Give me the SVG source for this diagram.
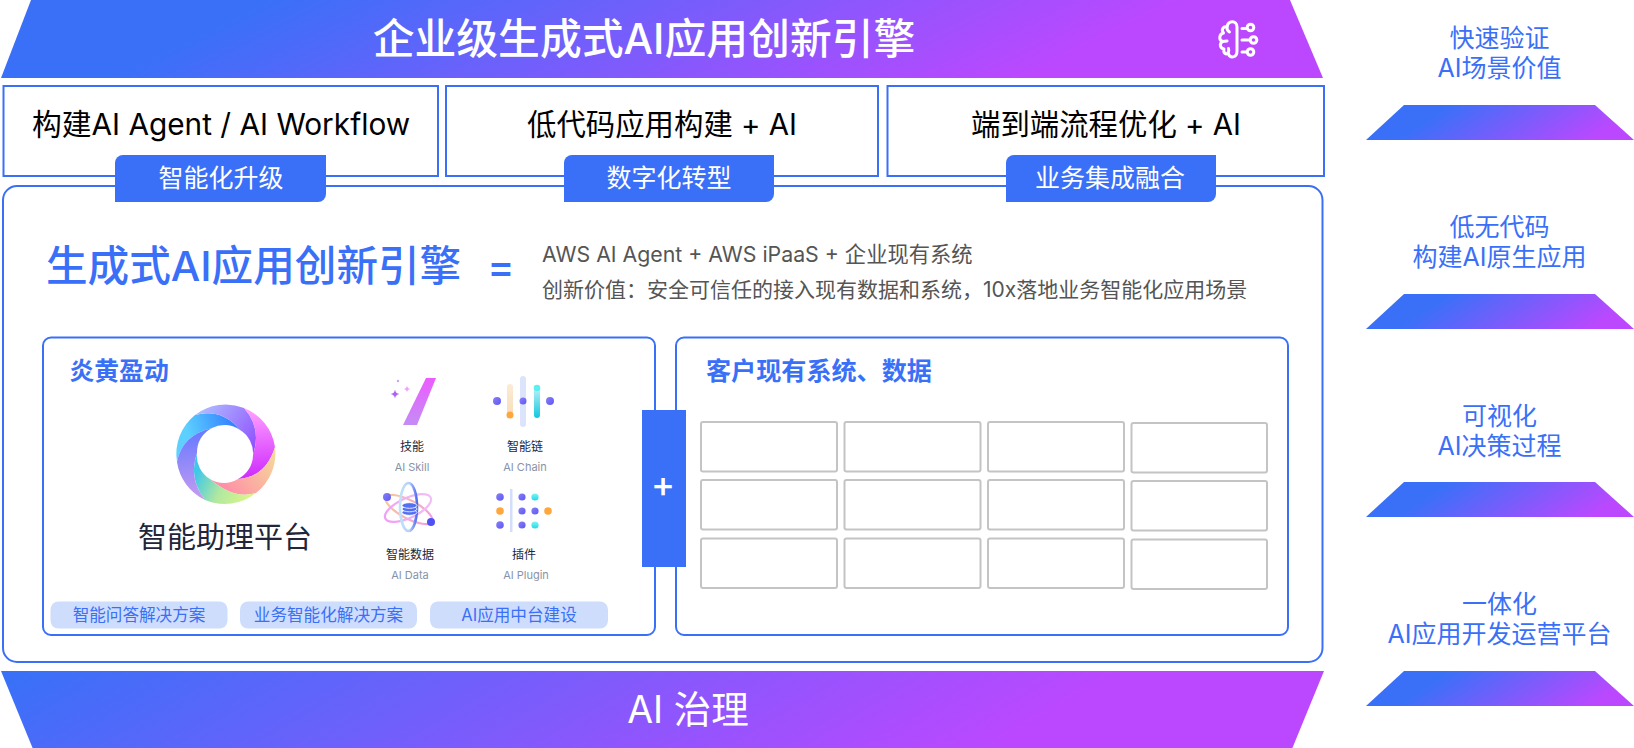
<svg xmlns="http://www.w3.org/2000/svg" width="1634" height="748" viewBox="0 0 1634 748">
<style>
text{font-family:Inter,"Noto Sans CJK SC",sans-serif;text-anchor:middle}
.box{fill:#fff;stroke:#3A70F8;stroke-width:2}
.cell{fill:#fff;stroke:#C4C4C4;stroke-width:2}
.badge{fill:#3A70F8}
.bt{fill:#fff;font-size:25px}
.rowt{fill:#000;font-size:29.400px}
.side{fill:#3A70F8;font-size:25px}
.chip{fill:#CEDDFC}
.cht{fill:#3A70F8;font-size:16.600px}
.ic1{fill:#23263a;font-size:12px}
.ic2{fill:#8A92A6;font-size:11px}
.sub{fill:#555;font-size:21.300px;text-anchor:start}
.h2{fill:#3A70F8;font-size:24.800px;font-weight:700;text-anchor:start}
.tri{fill:url(#gS)}
.dp{fill:url(#gDot)}.dc{fill:url(#gCy)}
</style>
<defs>
<linearGradient id="gT" x1="0" y1="0" x2="1" y2="0.12"><stop offset="0.2" stop-color="#3A70F8"/><stop offset="0.88" stop-color="#BB48FF"/></linearGradient>
<linearGradient id="gB" x1="0" y1="0" x2="1" y2="0.1"><stop offset="0.02" stop-color="#3A70F8"/><stop offset="0.84" stop-color="#BB48FF"/></linearGradient>
<linearGradient id="gS" x1="0" y1="0" x2="1" y2="0.2"><stop offset="0.3" stop-color="#3A70F8"/><stop offset="1" stop-color="#BB48FF"/></linearGradient>
<linearGradient id="gDot" x1="0" y1="0" x2="1" y2="1"><stop offset="0" stop-color="#8A80F5"/><stop offset="1" stop-color="#5A58F5"/></linearGradient>
<linearGradient id="gCy" x1="0" y1="0" x2="0" y2="1"><stop offset="0" stop-color="#7FF5F5"/><stop offset="1" stop-color="#20D8E8"/></linearGradient>
<linearGradient id="gCyB" x1="0" y1="0" x2="0" y2="1"><stop offset="0" stop-color="#C8F5F8"/><stop offset="1" stop-color="#10C8E0"/></linearGradient>
<linearGradient id="gOr" x1="0" y1="0" x2="0" y2="1"><stop offset="0" stop-color="#FBEBD6"/><stop offset="1" stop-color="#F8DDB8"/></linearGradient>
<linearGradient id="gSk" x1="0" y1="0" x2="0" y2="1"><stop offset="0" stop-color="#EC5CFF"/><stop offset="1" stop-color="#C48CF5"/></linearGradient>
<linearGradient id="gE1" x1="0" y1="0" x2="1" y2="0"><stop offset="0" stop-color="#F8C89A"/><stop offset="1" stop-color="#F0A0E0"/></linearGradient>
<linearGradient id="gE2" x1="0" y1="0" x2="1" y2="0"><stop offset="0" stop-color="#EFA0F5"/><stop offset="1" stop-color="#F0C0F8"/></linearGradient>
<linearGradient id="gE3" x1="0" y1="0" x2="1" y2="0"><stop offset="0" stop-color="#BFE2F8"/><stop offset="0.55" stop-color="#B8D0F8"/><stop offset="1" stop-color="#4F6CF0"/></linearGradient>
<linearGradient id="r1" gradientUnits="userSpaceOnUse" x1="190" y1="440" x2="240" y2="425"><stop offset="0" stop-color="#5CD0FF"/><stop offset="1" stop-color="#2F78FF"/></linearGradient>
<linearGradient id="r2" gradientUnits="userSpaceOnUse" x1="200" y1="405" x2="258" y2="445"><stop offset="0" stop-color="#B0C0FF"/><stop offset="1" stop-color="#9050FF"/></linearGradient>
<linearGradient id="r3" gradientUnits="userSpaceOnUse" x1="250" y1="410" x2="255" y2="475"><stop offset="0" stop-color="#FFA0FF"/><stop offset="1" stop-color="#D030FF"/></linearGradient>
<linearGradient id="r4" gradientUnits="userSpaceOnUse" x1="275" y1="450" x2="225" y2="490"><stop offset="0" stop-color="#F5DC98"/><stop offset="1" stop-color="#FF8FA8"/></linearGradient>
<linearGradient id="r5" gradientUnits="userSpaceOnUse" x1="250" y1="495" x2="198" y2="470"><stop offset="0" stop-color="#D8F58A"/><stop offset="0.5" stop-color="#B0E8A0"/><stop offset="1" stop-color="#40C8E8"/></linearGradient>
<linearGradient id="r6" gradientUnits="userSpaceOnUse" x1="195" y1="435" x2="200" y2="500"><stop offset="0" stop-color="#6C7CFF"/><stop offset="1" stop-color="#C89CF0"/></linearGradient>
</defs>

<g id="banner-top">
<polygon points="31,0 1290,0 1323,78 1,78" fill="url(#gT)"/>
<text x="644" y="54" fill="#fff" font-size="41.800" font-weight="500">企业级生成式AI应用创新引擎</text>
<g fill="none" stroke="#fff" stroke-width="3" stroke-linecap="round" stroke-linejoin="round">
<path d="M1237 27C1237 20 1228 20 1227 27C1223 26 1221 30 1223.500 33C1219 34 1218.500 40 1222.500 41.500C1219 44 1220 48 1224 49C1223 53 1226 55 1228 53C1230 59 1237 58 1237 51Z"/>
<path d="M1227 27C1226.500 30 1228 31 1229.500 32M1222.500 41.500L1227 41M1228 53C1229 51 1229 50 1228.500 48.500"/>
<path d="M1242 28.500H1247M1242 40H1249.500M1242 52H1247"/>
<circle cx="1250.500" cy="27.500" r="3.300"/><circle cx="1253.500" cy="40" r="3.300"/><circle cx="1250.500" cy="52" r="3.300"/>
</g>
</g>

<g id="card-row">
<g id="card-1"><rect class="box" x="3.500" y="86" width="434.500" height="90"/><text class="rowt" x="221" y="135" style="font-size:29.800px">构建AI Agent / AI Workflow</text></g>
<g id="card-2"><rect class="box" x="446" y="86" width="432" height="90"/><text class="rowt" x="662" y="135">低代码应用构建 + AI</text></g>
<g id="card-3"><rect class="box" x="887.500" y="86" width="436.500" height="90"/><text class="rowt" x="1106" y="135">端到端流程优化 + AI</text></g>
</g>

<g id="main"><rect class="box" x="3" y="186" width="1319.500" height="476" rx="14"/>
<text x="46" y="281" fill="#3A70F8" font-size="41.600" font-weight="500" style="text-anchor:start">生成式AI应用创新引擎</text>
<text x="501" y="281" fill="#3A70F8" font-size="41" font-weight="500">=</text>
<text class="sub" x="542" y="262">AWS AI Agent + AWS iPaaS + 企业现有系统</text>
<text class="sub" x="542" y="297" style="font-size:21px">创新价值&#xFF1A;安全可信任的接入现有数据和系统&#xFF0C;10x落地业务智能化应用场景</text>
</g>

<g id="badges">
<g id="badge-1"><path class="badge" d="M115 163a8 8 0 0 1 8-8H326V194a8 8 0 0 1-8 8H115Z"/><text class="bt" x="221" y="187">智能化升级</text></g>
<g id="badge-2"><path class="badge" d="M564 163a8 8 0 0 1 8-8H774V194a8 8 0 0 1-8 8H564Z"/><text class="bt" x="669" y="187">数字化转型</text></g>
<g id="badge-3"><path class="badge" d="M1006 163a8 8 0 0 1 8-8H1216V194a8 8 0 0 1-8 8H1006Z"/><text class="bt" x="1110" y="187">业务集成融合</text></g>
</g>

<g id="vendor"><rect class="box" x="43" y="337.500" width="612" height="297.500" rx="8"/>
<text class="h2" x="69.500" y="380">炎黄盈动</text>
<g id="ring">
<path fill="url(#r1)" d="M195 415Q222 408 240 430A27 27 0 0 0 212 428Q182 435 177 462A50 50 0 0 1 195 415Z"/>
<path fill="url(#r2)" d="M244 408Q262 428 253 455A27 27 0 0 0 240 430Q222 408 195 415A50 50 0 0 1 244 408Z"/>
<path fill="url(#r3)" d="M275 447Q266 477 238 479A27 27 0 0 0 253 455Q262 428 244 408A50 50 0 0 1 275 447Z"/>
<path fill="url(#r4)" d="M256 493Q234 500 210 479A27 27 0 0 0 238 479Q266 477 275 447A50 50 0 0 1 256 493Z"/>
<path fill="url(#r5)" d="M205 500Q188 478 197 453A27 27 0 0 0 210 479Q234 500 256 493A50 50 0 0 1 205 500Z"/>
<path fill="url(#r6)" d="M177 462Q182 435 212 428A27 27 0 0 0 197 453Q188 478 205 500A50 50 0 0 1 177 462Z"/>
</g>
<text x="225" y="548" fill="#23263A" font-size="29">智能助理平台</text>
<g id="icon-skill">
<path fill="url(#gSk)" d="M426 378H436L417 425H403Z"/>
<path fill="#B060F5" d="M395 389.500Q395.500 393.500 399.500 394Q395.500 394.500 395 398.500Q394.500 394.500 390.500 394Q394.500 393.500 395 389.500Z"/>
<path fill="#EFA0FF" d="M407 386Q407.500 388.500 410 389Q407.500 389.500 407 392Q406.500 389.500 404 389Q406.500 388.500 407 386Z"/>
<circle cx="398" cy="381" r="1.200" fill="#C4A6F5"/>
<text class="ic1" x="412" y="451">技能</text><text class="ic2" x="412" y="471">AI Skill</text>
</g>
<g id="icon-chain">
<rect x="507" y="384" width="6" height="33" rx="3" fill="url(#gOr)"/>
<rect x="520" y="376" width="6" height="51" rx="3" fill="#DCE4FC"/>
<rect x="534" y="385" width="6" height="33" rx="3" fill="url(#gCyB)"/>
<circle cx="497" cy="401" r="4" class="dp"/><circle cx="510" cy="415" r="3.500" fill="#FFA63D"/><circle cx="523" cy="401" r="3.500" class="dp"/><circle cx="537" cy="388" r="3.300" fill="#5AF0F0"/><circle cx="550" cy="401" r="4" class="dp"/>
<text class="ic1" x="525" y="451">智能链</text><text class="ic2" x="525" y="471">AI Chain</text>
</g>
<g id="icon-data">
<g fill="none" stroke-width="2.200">
<ellipse cx="409" cy="509.500" rx="26" ry="9" transform="rotate(28 409 509.500)" stroke="url(#gE1)"/>
<ellipse cx="408" cy="508" rx="25" ry="10" transform="rotate(-25 408 508)" stroke="url(#gE2)"/>
<ellipse cx="408.500" cy="507" rx="8.500" ry="24" stroke="url(#gE3)" stroke-width="2.600"/>
</g>
<g fill="#5470F0" stroke="#fff" stroke-width="0.800"><ellipse cx="409.500" cy="512.500" rx="7.500" ry="2.800"/><ellipse cx="409.500" cy="509" rx="7.500" ry="2.800"/><ellipse cx="409.500" cy="505.500" rx="7.500" ry="2.800"/></g>
<circle cx="387" cy="497" r="4" class="dp"/><circle cx="431" cy="522" r="4" fill="#4F50F5"/>
<text class="ic1" x="410" y="559">智能数据</text><text class="ic2" x="410" y="579">AI Data</text>
</g>
<g id="icon-plugin">
<rect x="510" y="489" width="2.500" height="43" fill="#D4DEFA"/>
<circle cx="500" cy="497" r="3.800" class="dp"/><circle cx="500" cy="511" r="3.800" fill="#FFA63D"/><circle cx="500" cy="525" r="3.800" class="dp"/>
<circle cx="522" cy="497" r="3.600" class="dp"/><circle cx="522" cy="511" r="3.600" class="dp"/><circle cx="522" cy="525" r="3.600" class="dp"/>
<circle cx="535" cy="497" r="3.600" class="dc"/><circle cx="535" cy="511" r="3.600" class="dp"/><circle cx="535" cy="525" r="3.600" class="dc"/>
<circle cx="548" cy="511" r="3.800" fill="#FFA63D"/>
<text class="ic1" x="524" y="559">插件</text><text class="ic2" x="526" y="579">AI Plugin</text>
</g>
<g id="chips">
<rect class="chip" x="50.500" y="601.500" width="177" height="27" rx="8"/><text class="cht" x="139" y="621">智能问答解决方案</text>
<rect class="chip" x="240" y="601.500" width="177" height="27" rx="8"/><text class="cht" x="328.500" y="621">业务智能化解决方案</text>
<rect class="chip" x="430" y="601.500" width="178" height="27" rx="8"/><text class="cht" x="519" y="621">AI应用中台建设</text>
</g>
</g>

<g id="customer"><rect class="box" x="676" y="337.500" width="612" height="297.500" rx="8"/>
<text x="706" y="380" class="h2" style="font-size:25.100px">客户现有系统、数据</text>
<g id="cells">
<rect class="cell" x="701" y="422" width="136" height="49.500" rx="2"/><rect class="cell" x="844.500" y="422" width="136" height="49.500" rx="2"/><rect class="cell" x="988" y="422" width="136" height="49.500" rx="2"/><rect class="cell" x="1131.500" y="423" width="135.500" height="49.500" rx="2"/>
<rect class="cell" x="701" y="480" width="136" height="49.500" rx="2"/><rect class="cell" x="844.500" y="480" width="136" height="49.500" rx="2"/><rect class="cell" x="988" y="480" width="136" height="49.500" rx="2"/><rect class="cell" x="1131.500" y="481" width="135.500" height="49.500" rx="2"/>
<rect class="cell" x="701" y="538.500" width="136" height="49.500" rx="2"/><rect class="cell" x="844.500" y="538.500" width="136" height="49.500" rx="2"/><rect class="cell" x="988" y="538.500" width="136" height="49.500" rx="2"/><rect class="cell" x="1131.500" y="539.500" width="135.500" height="49.500" rx="2"/>
</g>
</g>

<g id="plus"><rect x="642" y="410" width="44" height="157" fill="#3A70F8"/>
<text x="663" y="497" fill="#fff" font-size="36" font-weight="500">+</text></g>

<g id="banner-bottom">
<polygon points="1,671 1324,671 1292,749 33,749" fill="url(#gB)"/>
<text x="688" y="723" fill="#fff" font-size="37.500">AI 治理</text>
</g>

<g id="side">
<g id="side-1"><text class="side" x="1499.500" y="47">快速验证</text><text class="side" x="1499.500" y="77">AI场景价值</text><polygon class="tri" points="1404,105 1595,105 1634,140 1366,140"/></g>
<g id="side-2"><text class="side" x="1499.500" y="236">低无代码</text><text class="side" x="1499.500" y="266">构建AI原生应用</text><polygon class="tri" points="1404,294 1595,294 1634,329 1366,329"/></g>
<g id="side-3"><text class="side" x="1499.500" y="425">可视化</text><text class="side" x="1499.500" y="455">AI决策过程</text><polygon class="tri" points="1404,482 1595,482 1634,517 1366,517"/></g>
<g id="side-4"><text class="side" x="1499.500" y="613">一体化</text><text class="side" x="1499.500" y="643">AI应用开发运营平台</text><polygon class="tri" points="1404,671 1595,671 1634,706 1366,706"/></g>
</g>
</svg>
